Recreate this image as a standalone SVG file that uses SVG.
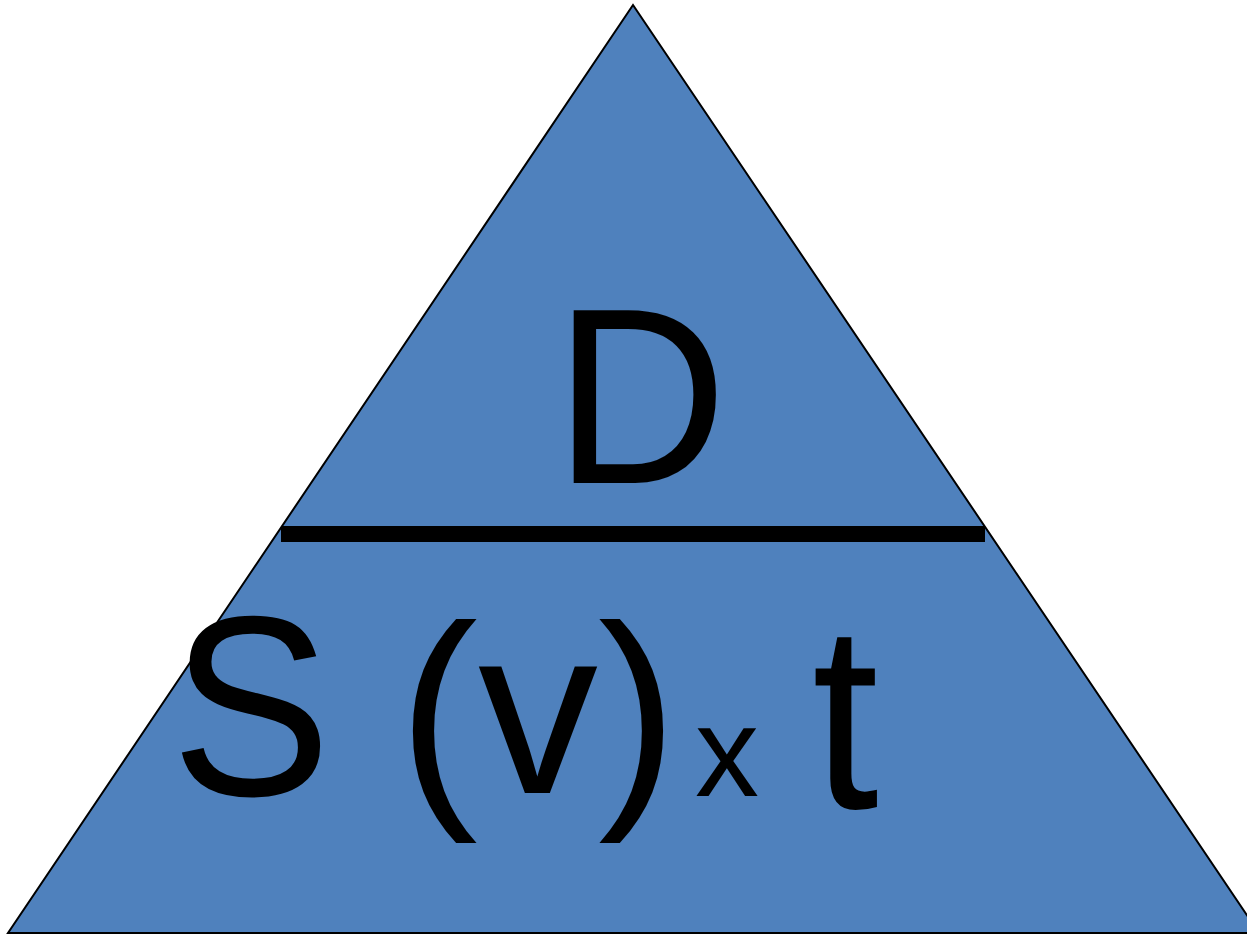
<svg xmlns="http://www.w3.org/2000/svg" width="1247" height="935" viewBox="0 0 1247 935">
<style>
.t{font-family:"Liberation Sans",Arial,sans-serif;fill:#000}
</style>
<rect width="1247" height="935" fill="#fff"/>
<g id="triangle">
<polygon points="633,5 8,933 1259,933" fill="#4F81BD" stroke="#000" stroke-width="2"/>
</g>
<g id="divider">
<rect x="281" y="526" width="704" height="16" fill="#000"/>
</g>
<g id="top">
<text class="t" transform="translate(554,483) scale(1,1.042)" font-size="240">D</text>
</g>
<g id="bottom">
<text class="t" transform="translate(171,795) scale(1,1.07)" font-size="240">S</text>
<text class="t" x="398" y="793" font-size="240">(v)</text>
<text class="t" x="695" y="796" font-size="128">x</text>
<text class="t" transform="translate(812,808) scale(1,1.1)" font-size="240">t</text>
</g>
</svg>
